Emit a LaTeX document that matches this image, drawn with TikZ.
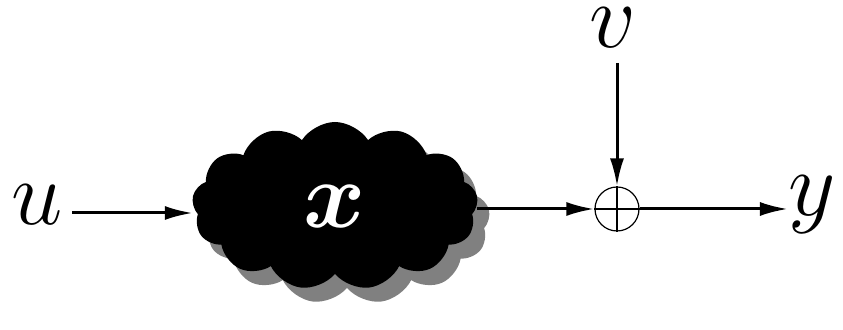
\documentclass[tikz,border=0pt]{standalone}
\usepackage{bm}
\usetikzlibrary{shapes.symbols,arrows.meta}
\newcommand{\bigsym}[1]{\scalebox{1.85}{\Huge$#1$}}
\begin{document}
\begin{tikzpicture}[x=0.5pt,y=-0.5pt,
  lbl/.style={inner sep=0pt, anchor=base},
  conn/.style={line width=1.5pt,-{Latex[length=14pt,width=7pt]}},
  blob/.style={cloud, cloud puffs=13, cloud puff arc=115, aspect=1.75,
     minimum width=143pt, minimum height=84pt, inner sep=0pt}]
\useasboundingbox (0,0) rectangle (843,330);
\node[lbl] (u) at (37,225) {\bigsym{u}};
\node[lbl] (v) at (613,48) {\bigsym{v}};
\node[lbl] (y) at (812,216) {\bigsym{y}};
\node[blob, fill=black!50] (shadow) at (347,220) {};
\node[blob, fill=black, text=white] (x) at (335,206) {\scalebox{1.9}{\Huge$\bm{x}$}};
\node[circle, draw, line width=0.6pt, minimum size=22pt, inner sep=0pt] (sum) at (617,209) {};
\draw[line width=0.6pt] (sum.north) -- (sum.south) (sum.west) -- (sum.east);
\coordinate (uo) at (72,213);
\coordinate (vo) at (617,63);
\draw[conn] (uo) -- (x.west |- uo);
\draw[conn] (x.east |- sum) -- (sum.west);
\draw[conn] (vo) -- (sum.north);
\draw[conn] (sum.east) -- (y.west |- sum);
\end{tikzpicture}
\end{document}
